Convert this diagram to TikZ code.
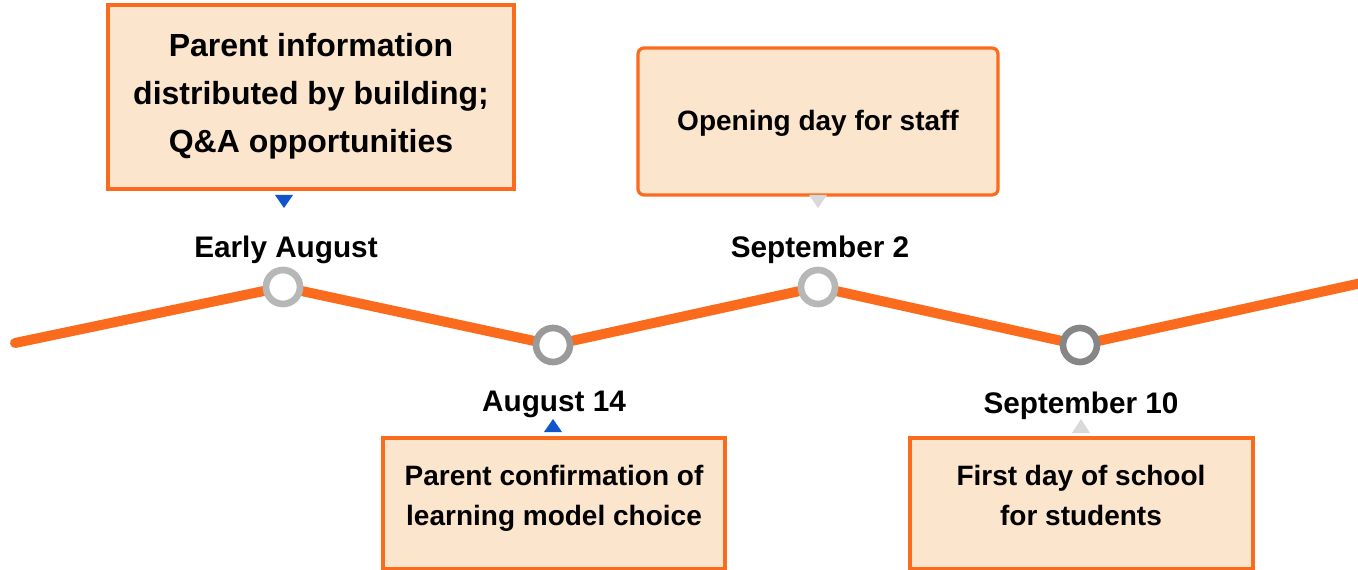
\documentclass[tikz,border=0pt]{standalone}
\usepackage{fontspec}
\setmainfont{Liberation Sans}
\definecolor{lineor}{HTML}{FA6B1E}
\definecolor{boxfill}{HTML}{FCE5CD}
\definecolor{tblue}{HTML}{1155CC}
\definecolor{tgray}{HTML}{D9D9D9}
\definecolor{gA}{HTML}{B7B7B7}
\definecolor{gB}{HTML}{9A9A9A}
\definecolor{gC}{HTML}{868686}
\begin{document}
\begin{tikzpicture}[x=0.75pt,y=-0.75pt,
  evbox/.style={draw=lineor, line width=2.4pt, fill=boxfill, inner sep=0pt},
  boxtxt/.style={align=center, inner sep=0pt, font=\bfseries\fontsize{21}{30}\selectfont},
  datelbl/.style={inner sep=0pt, font=\bfseries\fontsize{22.3}{26}\selectfont},
  stop/.style={circle, draw=#1, line width=5pt, fill=white, minimum size=25.5pt, inner sep=0pt},
  tline/.style={draw=lineor, line width=7.5pt, line cap=round, line join=round}
]
\clip (0,0) rectangle (1358,570);
\fill[white] (0,0) rectangle (1358,570);

% timeline points
\coordinate (start) at (15,343);
\coordinate (p1) at (283,287);
\coordinate (p2) at (553,345);
\coordinate (p3) at (818,287);
\coordinate (p4) at (1080,345);
\coordinate (end) at (1375,280);
\draw[tline] (start) -- (p1) -- (p2) -- (p3) -- (p4) -- (end);

\node[stop=gA] (s1) at (p1) {};
\node[stop=gB] (s2) at (p2) {};
\node[stop=gA] (s3) at (p3) {};
\node[stop=gC] (s4) at (p4) {};

% date labels
\node[datelbl] (l1) at (286,250) {Early August};
\node[datelbl] (l2) at (554,404) {August 14};
\node[datelbl] (l3) at (820,250) {September 2};
\node[datelbl] (l4) at (1081,406) {September 10};

% boxes
\node[evbox, minimum width=304.5pt, minimum height=138pt] (b1) at (311,97) {};
\node[boxtxt, font=\bfseries\fontsize{24}{36}\selectfont] (t1) at (311,96)
  {Parent information\\distributed by building;\\Q\&A opportunities};

\node[evbox, rounded corners=4.5pt, minimum width=270pt, minimum height=110.25pt] (b2) at (818,121.5) {};
\node[boxtxt] (t2) at (818,123) {Opening day for staff};

\node[evbox, minimum width=256.5pt, minimum height=98.25pt] (b3) at (554,503.5) {};
\node[boxtxt] (t3) at (554,498) {Parent confirmation of\\learning model choice};

\node[evbox, minimum width=257.25pt, minimum height=98.25pt] (b4) at (1081.5,503.5) {};
\node[boxtxt] (t4) at (1081,495) {First day of school\\for students};

% pointer triangles
\fill[tblue] (275,195) -- (293,195) -- (284,208) -- cycle;
\fill[tgray] (809,195) -- (827,195) -- (818,208) -- cycle;
\fill[tblue] (544,432) -- (562,432) -- (553,419) -- cycle;
\fill[tgray] (1072,433) -- (1090,433) -- (1081,419) -- cycle;
\end{tikzpicture}
\end{document}
